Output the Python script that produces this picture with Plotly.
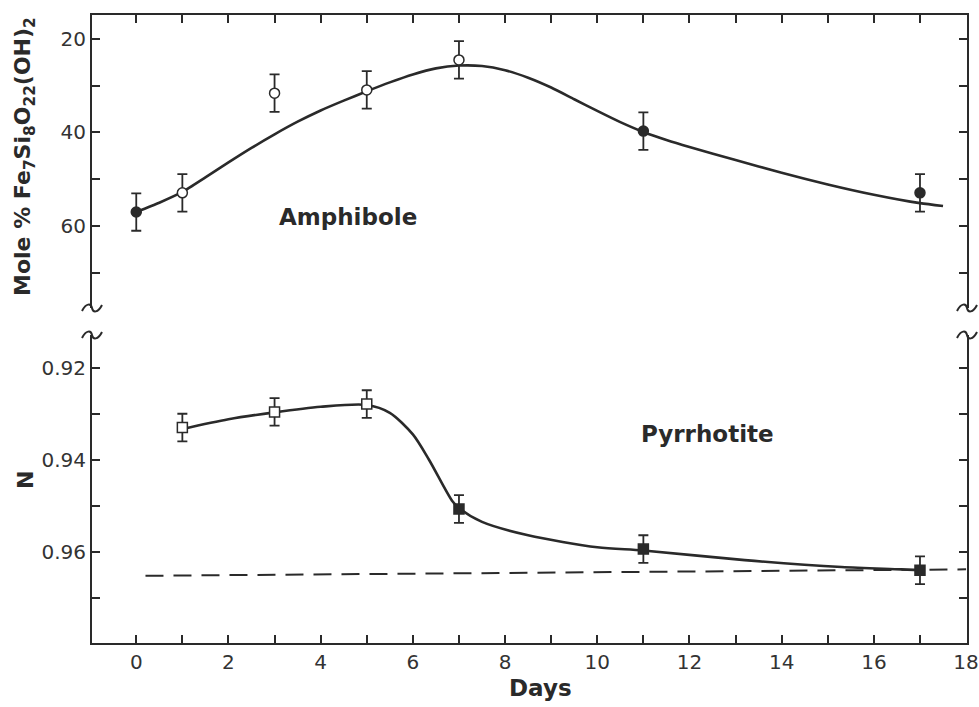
import plotly.graph_objects as go

# ---------------- data ----------------
amph_days = [0, 1, 3, 5, 7, 11, 17]
amph_mole = [57.0, 52.9, 31.6, 30.9, 24.5, 39.7, 52.9]
amph_err = [4, 4, 4, 4, 4, 4, 4]
amph_filled = [True, False, False, False, False, True, True]

amph_curve_days = [0, 0.5, 1, 1.5, 2, 2.5, 3, 3.5, 4, 4.5, 5, 5.5, 6, 6.5, 7, 7.5, 8, 8.5, 9, 9.5,
                   10, 10.5, 11, 11.5, 12, 13, 14, 15, 16, 17, 17.5]
amph_curve_mole = [57.0, 55.0, 52.7, 49.6, 46.4, 43.3, 40.4, 37.7, 35.3, 33.2, 31.2, 29.3, 27.6,
                   26.3, 25.7, 25.8, 26.7, 28.3, 30.4, 32.9, 35.4, 37.8, 39.9, 41.6, 43.1,
                   45.9, 48.6, 51.1, 53.3, 55.1, 55.7]

pyr_days = [1, 3, 5, 7, 11, 17]
pyr_N = [0.9330, 0.9296, 0.9279, 0.9507, 0.9594, 0.9640]
pyr_err = [0.003, 0.003, 0.003, 0.003, 0.003, 0.003]
pyr_filled = [False, False, False, True, True, True]

pyr_curve_days = [1, 2, 3, 4, 5, 5.5, 6, 6.35, 6.85, 7, 7.5, 8.5, 10, 11, 13.2, 15.3, 16.6, 17]
pyr_curve_N = [0.9333, 0.9312, 0.9297, 0.9285, 0.9281, 0.9298, 0.9345, 0.9400, 0.9489, 0.9505,
               0.9535, 0.9564, 0.9590, 0.9597, 0.9618, 0.9633, 0.9638, 0.9640]

ref_days = [0.2, 18]
ref_N = [0.9652, 0.9638]

amph_yticks = [20, 30, 40, 50, 60, 70]
amph_yticktext = ["20", "", "40", "", "60", ""]
pyr_yticks = [0.92, 0.93, 0.94, 0.95, 0.96, 0.97]
pyr_yticktext = ["0.92", "", "0.94", "", "0.96", ""]
x_ticks = list(range(0, 19))
x_ticktext = [str(v) if v % 2 == 0 else "" for v in x_ticks]

INK = "#2a2a2a"
FONT = "DejaVu Sans"

fig = go.Figure()

# curves
fig.add_trace(go.Scatter(x=amph_curve_days, y=amph_curve_mole, mode="lines",
                         line=dict(color=INK, width=2.6, shape="spline", smoothing=0.6),
                         xaxis="x", yaxis="y", showlegend=False, hoverinfo="skip"))
fig.add_trace(go.Scatter(x=pyr_curve_days, y=pyr_curve_N, mode="lines",
                         line=dict(color=INK, width=2.6, shape="spline", smoothing=0.8),
                         xaxis="x2", yaxis="y2", showlegend=False, hoverinfo="skip"))
fig.add_trace(go.Scatter(x=ref_days, y=ref_N, mode="lines",
                         line=dict(color=INK, width=2, dash="18px,10px"),
                         xaxis="x2", yaxis="y2", showlegend=False, hoverinfo="skip"))

# points
fig.add_trace(go.Scatter(x=amph_days, y=amph_mole, mode="markers",
                         marker=dict(symbol="circle", size=10,
                                     color=[INK if f else "white" for f in amph_filled],
                                     line=dict(color=INK, width=1.5)),
                         error_y=dict(type="data", array=amph_err, color=INK, thickness=1.8, width=5),
                         xaxis="x", yaxis="y", showlegend=False))
fig.add_trace(go.Scatter(x=pyr_days, y=pyr_N, mode="markers",
                         marker=dict(symbol="square", size=10,
                                     color=[INK if f else "white" for f in pyr_filled],
                                     line=dict(color=INK, width=1.5)),
                         error_y=dict(type="data", array=pyr_err, color=INK, thickness=1.8, width=5),
                         xaxis="x2", yaxis="y2", showlegend=False))

axis_common = dict(showgrid=False, zeroline=False, linecolor=INK, linewidth=2,
                   ticks="inside", ticklen=8, tickwidth=1.8, tickcolor=INK, automargin=False,
                   tickfont=dict(family=FONT, size=20, color="#333"))

L, R, T, B = 92, 12, 15, 64
W, H = 979, 707
ph = H - T - B
top_dom = [(643 - 308) / ph, 1.0]
bot_dom = [0.0, (643 - 335) / ph]
x_range = [-0.96, 18.02]

fig.update_layout(
    width=W, height=H,
    margin=dict(l=L, r=R, t=T, b=B, autoexpand=False),
    paper_bgcolor="white", plot_bgcolor="white",
    xaxis=dict(domain=[0, 1], anchor="y", side="top", range=x_range,
               tickvals=x_ticks, showticklabels=False, showline=True, mirror=False, **axis_common),
    xaxis2=dict(domain=[0, 1], anchor="y2", side="bottom", range=x_range, matches="x",
                tickvals=x_ticks, ticktext=x_ticktext, showline=True, mirror=False,
                ticklabeloverflow="allow", **axis_common),
    yaxis=dict(domain=top_dom, anchor="x", range=[77.5, 14.9],
               tickvals=amph_yticks, ticktext=amph_yticktext, showline=True, mirror="ticks",
               **axis_common),
    yaxis2=dict(domain=bot_dom, anchor="x2", range=[0.9798, 0.9129],
                tickvals=pyr_yticks, ticktext=pyr_yticktext, showline=True, mirror="ticks",
                **axis_common),
)


def px(xp):
    return (xp - L) / (W - L - R)


def py(yp):
    return (H - B - yp) / ph


def wave(cx, cy):
    pts = [(cx - 10, cy + 3), (cx - 6, cy - 5), (cx - 1, cy - 5), (cx, cy),
           (cx + 1, cy + 5), (cx + 6, cy + 5), (cx + 10, cy - 3)]
    p = [(px(a), py(b)) for a, b in pts]
    return ("M {0},{1} C {2},{3} {4},{5} {6},{7} C {8},{9} {10},{11} {12},{13}"
            .format(*[v for q in p for v in q]))


shapes = []
for cx in (L, W - R):
    for cy in (308, 335):
        shapes.append(dict(type="path", xref="paper", yref="paper", path=wave(cx, cy),
                           line=dict(color=INK, width=2)))
fig.update_layout(shapes=shapes)

lab = dict(family=FONT, size=23, color=INK, weight="bold")
fig.add_annotation(text="Amphibole", x=4.6, y=58.0, xref="x", yref="y", showarrow=False,
                   xanchor="center", yanchor="middle", font=lab)
fig.add_annotation(text="Pyrrhotite", x=12.4, y=0.9345, xref="x2", yref="y2", showarrow=False,
                   xanchor="center", yanchor="middle", font=lab)
fig.add_annotation(text="Mole % Fe<sub>7</sub>Si<sub>8</sub>O<sub>22</sub>(OH)<sub>2</sub>",
                   x=px(25), y=py(157), xref="paper", yref="paper", textangle=-90,
                   xanchor="center", yanchor="middle",
                   showarrow=False, font=dict(family=FONT, size=22, color=INK, weight="bold"))
fig.add_annotation(text="N", x=px(25), y=py(480), xref="paper", yref="paper", textangle=-90,
                   xanchor="center", yanchor="middle",
                   showarrow=False, font=dict(family=FONT, size=22, color=INK, weight="bold"))
fig.add_annotation(text="Days", x=px(540), y=py(688), xref="paper", yref="paper",
                   xanchor="center", yanchor="middle",
                   showarrow=False, font=dict(family=FONT, size=23, color=INK, weight="bold"))

fig.write_html("out.html")
